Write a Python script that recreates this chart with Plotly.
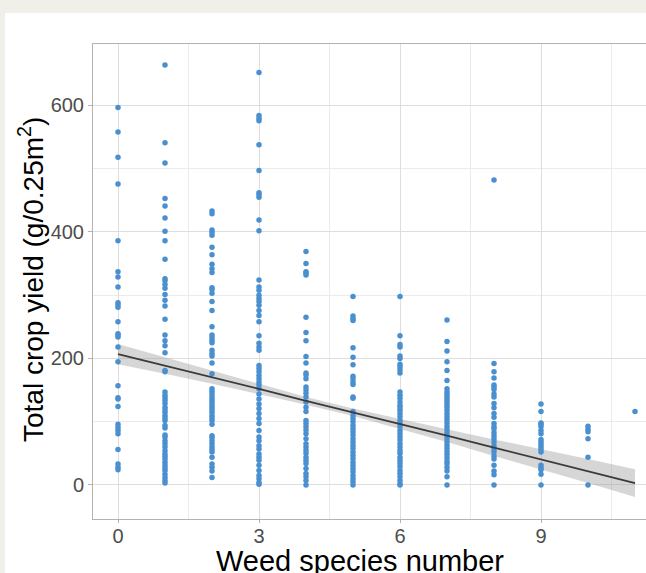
import plotly.graph_objects as go

# ---- data ----
species = [0, 1, 2, 3, 4, 5, 6, 7, 8, 9, 10, 11]
yield_w0 = [597, 558, 518, 476, 386, 337, 329, 313, 288, 285, 281, 258, 239, 237, 234, 218, 195, 157, 138, 136, 124, 96, 91, 86, 81, 56, 33, 28, 24]
yield_w1 = [664, 541, 509, 453, 441, 422, 401, 386, 357, 326, 323, 317, 311, 301, 292, 283, 262, 237, 228, 220, 209, 181, 179, 147, 142, 138, 134, 129, 123, 119, 115, 110, 106, 102, 94, 90, 79, 76, 70, 65, 60, 54, 49, 45, 41, 36, 31, 27, 23, 17, 12, 7, 3]
yield_w2 = [433, 429, 403, 399, 395, 376, 364, 349, 342, 336, 312, 309, 303, 290, 276, 250, 237, 233, 229, 225, 213, 208, 204, 193, 176, 152, 148, 144, 139, 135, 131, 127, 123, 119, 115, 110, 106, 102, 96, 78, 75, 70, 65, 60, 56, 52, 44, 33, 28, 22, 12]
yield_w3 = [652, 584, 580, 576, 538, 497, 462, 459, 455, 419, 402, 324, 313, 308, 300, 295, 290, 284, 276, 268, 258, 236, 224, 218, 213, 189, 184, 179, 173, 168, 163, 158, 152, 144, 136, 128, 121, 113, 105, 97, 86, 76, 70, 62, 57, 49, 44, 39, 31, 23, 15, 10, 4, 1]
yield_w4 = [369, 350, 337, 335, 332, 265, 241, 228, 203, 193, 177, 174, 168, 155, 150, 145, 139, 131, 123, 116, 102, 97, 92, 87, 81, 73, 65, 60, 55, 50, 44, 39, 34, 26, 18, 13, 7, 0]
yield_w5 = [298, 267, 263, 260, 217, 202, 190, 172, 168, 163, 159, 139, 137, 116, 110, 105, 100, 94, 89, 84, 79, 73, 68, 63, 58, 52, 47, 42, 36, 31, 26, 21, 15, 10, 5, 0]
yield_w6 = [298, 236, 222, 218, 204, 200, 191, 187, 182, 177, 147, 142, 137, 131, 126, 122, 118, 113, 108, 102, 97, 92, 86, 81, 76, 71, 65, 60, 55, 50, 44, 39, 34, 29, 23, 18, 13, 7, 2, 0]
yield_w7 = [261, 227, 212, 195, 181, 165, 152, 147, 143, 139, 135, 131, 127, 123, 118, 113, 108, 103, 98, 93, 88, 83, 78, 73, 68, 63, 58, 53, 48, 43, 38, 34, 28, 22, 13, 0]
yield_w8 = [482, 192, 179, 169, 158, 155, 151, 144, 139, 129, 122, 113, 107, 97, 92, 89, 83, 78, 73, 68, 62, 57, 52, 46, 41, 31, 22, 16, 0]
yield_w9 = [128, 116, 98, 96, 92, 86, 81, 72, 68, 64, 60, 56, 52, 31, 27, 24, 17, 0]
yield_w10 = [93, 88, 84, 73, 44, 0]
yield_w11 = [116]

# fitted line and confidence band
fit_x = [0, 1, 2, 3, 4, 5, 6, 7, 8, 9, 10, 11]
fit_y = [207, 189, 170, 152, 133, 115, 96, 78, 59, 40, 22, 3]
fit_lo = [191, 176, 160, 144, 127, 109, 88, 68, 46, 24, 3, -19]
fit_hi = [223, 202, 180, 160, 139, 121, 104, 88, 72, 57, 41, 25]

x_ticks = [0, 3, 6, 9]
y_ticks = [0, 200, 400, 600]

columns = [yield_w0, yield_w1, yield_w2, yield_w3, yield_w4, yield_w5,
           yield_w6, yield_w7, yield_w8, yield_w9, yield_w10, yield_w11]
xs, ys = [], []
for s, vals in zip(species, columns):
    xs += [s] * len(vals)
    ys += vals

W, H = 646, 573
L, R, T, B = 93, 646, 44, 519
pw, ph = R - L, B - T

fig = go.Figure()
fig.add_trace(go.Scatter(x=fit_x + fit_x[::-1], y=fit_hi + fit_lo[::-1],
                         fill="toself", fillcolor="rgba(153,153,153,0.4)",
                         line=dict(width=0), mode="lines", hoverinfo="skip",
                         showlegend=False))
fig.add_trace(go.Scatter(x=xs, y=ys, mode="markers",
                         marker=dict(color="#4a90d0", size=5.5, line=dict(width=0)),
                         showlegend=False))
fig.add_trace(go.Scatter(x=fit_x, y=fit_y, mode="lines",
                         line=dict(color="#3a3a3a", width=1.7), showlegend=False))

def px_x(p):
    return (p - L) / pw

def px_y(p):
    return (B - p) / ph

# white panel on beige background
fig.add_shape(type="rect", xref="paper", yref="paper",
              x0=px_x(5), x1=px_x(660), y0=px_y(600), y1=px_y(13),
              fillcolor="white", line=dict(width=0), layer="below")

font = "Liberation Sans, Arial, sans-serif"
fig.update_layout(
    width=W, height=H,
    margin=dict(l=L, r=W - R, t=T, b=H - B, pad=0),
    paper_bgcolor="#f0f0e9", plot_bgcolor="white",
    font=dict(family=font),
    xaxis=dict(range=[-0.532, 11.234], tickvals=x_ticks, ticktext=[str(v) for v in x_ticks],
               showgrid=True, gridcolor="#dedede", gridwidth=1,
               minor=dict(tickvals=[1.5, 4.5, 7.5, 10.5], showgrid=True,
                          gridcolor="#ebebeb", gridwidth=1),
               showline=True, linecolor="#b3b3b3", linewidth=1, mirror=True,
               ticks="outside", ticklen=3, tickcolor="#b3b3b3",
               ticklabelstandoff=-4,
               tickfont=dict(size=20, color="#4d4d4d", family=font),
               zeroline=False, automargin=False),
    yaxis=dict(range=[-53.8, 697.2], tickvals=y_ticks, ticktext=[str(v) for v in y_ticks],
               showgrid=True, gridcolor="#dedede", gridwidth=1,
               minor=dict(tickvals=[100, 300, 500], showgrid=True,
                          gridcolor="#ebebeb", gridwidth=1),
               showline=True, linecolor="#b3b3b3", linewidth=1,
               ticks="outside", ticklen=4, tickcolor="#b3b3b3",
               tickfont=dict(size=20, color="#4d4d4d", family=font),
               zeroline=False, automargin=False),
    annotations=[
        dict(text="Weed species number", xref="paper", yref="paper",
             x=px_x(360), y=px_y(543), xanchor="center", yanchor="top",
             showarrow=False, font=dict(size=29, color="black", family=font)),
        dict(text="Total crop yield (g/0.25m<sup>2</sup>)", xref="paper", yref="paper",
             x=px_x(31), y=px_y(280), xanchor="center", yanchor="middle",
             textangle=-90, showarrow=False,
             font=dict(size=28, color="black", family=font)),
    ],
)

fig.write_html("out.html", config={"displayModeBar": False})

# remove the browser's default page margin so the figure starts at the corner
with open("out.html", "r", encoding="utf-8") as f:
    html = f.read()
html = html.replace("<head>", "<head><style>html,body{margin:0;padding:0;}</style>", 1)
with open("out.html", "w", encoding="utf-8") as f:
    f.write(html)
